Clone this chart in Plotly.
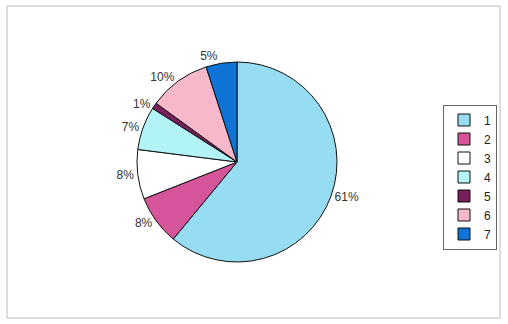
import plotly.graph_objects as go

labels = ["1", "2", "3", "4", "5", "6", "7"]
values = [61, 8, 8, 7, 1, 10, 5]
colors = ["#96DDF3", "#D4559A", "#FFFFFF", "#B2F3F5", "#7A1F5E", "#F7B8CA", "#0F74D6"]

fig = go.Figure(go.Pie(
    labels=labels,
    values=values,
    sort=False,
    direction="clockwise",
    rotation=0,
    marker=dict(colors=colors, line=dict(color="#111111", width=1)),
    textposition="outside",
    texttemplate="%{percent:.0%}",
    textfont=dict(family="Liberation Sans, Arial, sans-serif", size=12, color="#333333"),
    domain=dict(x=[137/508, 337/508], y=[62/324, 262/324]),
    hoverinfo="label+percent",
))

fig.update_layout(
    width=508, height=324,
    margin=dict(l=0, r=0, t=0, b=0, autoexpand=False),
    paper_bgcolor="white",
    plot_bgcolor="white",
    font=dict(family="Liberation Sans, Arial, sans-serif", size=12, color="#222222"),
    legend=dict(
        x=443/508, y=(324-177)/324, xanchor="left", yanchor="middle",
        bordercolor="#666666", borderwidth=1,
        font=dict(size=12, color="#222222"),
        itemwidth=30,
    ),
    shapes=[dict(type="rect", xref="paper", yref="paper",
                 x0=7/508, x1=500/508, y0=(324-318)/324, y1=(324-6)/324,
                 line=dict(color="#BBBBBB", width=1))],
)

fig.write_html("out.html")
